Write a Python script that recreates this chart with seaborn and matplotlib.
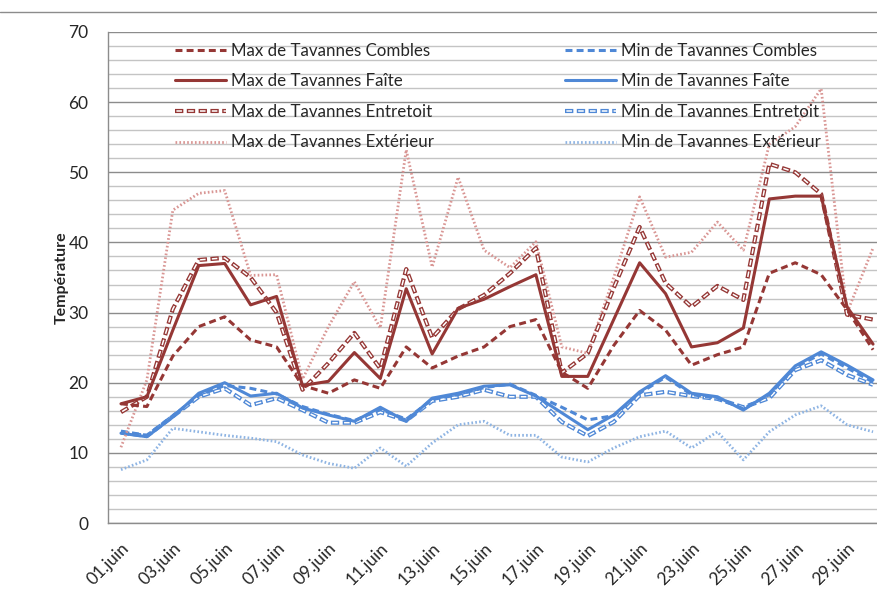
import matplotlib
matplotlib.use("Agg")
import matplotlib.pyplot as plt
import seaborn as sns
import pandas as pd
from matplotlib.lines import Line2D
from matplotlib.ticker import MultipleLocator

# Data (June daily temperatures)
days = [f"{d:02d}.juin" for d in range(1, 31)]

max_combles = [17.0, 16.6, 23.8, 28.0, 29.4, 26.1, 25.1, 19.6, 18.5, 20.4,
               19.2, 25.1, 22.1, 23.8, 25.1, 28.0, 29.0, 21.5, 19.2, 25.3,
               30.3, 27.5, 22.5, 24.0, 25.1, 35.6, 37.1, 35.4, 30.4, 24.7]
max_faite = [17.0, 18.0, 27.5, 36.7, 37.0, 31.1, 32.3, 19.6, 20.2, 24.3,
             20.6, 33.4, 24.1, 30.6, 31.9, 33.7, 35.4, 20.9, 20.9, 29.0,
             37.1, 32.7, 25.1, 25.7, 27.8, 46.2, 46.6, 46.6, 30.8, 25.5]
max_entretoit = [15.8, 18.0, 30.5, 37.5, 37.8, 35.0, 30.0, 19.0, 22.8, 27.1,
                 22.0, 36.2, 26.4, 30.5, 32.5, 35.6, 39.2, 21.4, 24.2, 33.5,
                 42.2, 34.2, 30.8, 33.8, 31.8, 51.2, 50.0, 46.9, 29.7, 29.0]
max_exterieur = [10.8, 20.4, 44.6, 47.0, 47.4, 35.3, 35.4, 20.5, 28.0, 34.4,
                 27.8, 53.2, 36.5, 49.3, 38.9, 36.4, 40.1, 25.1, 24.2, 35.0,
                 46.5, 37.9, 38.6, 42.9, 38.9, 54.0, 56.5, 61.9, 30.0, 39.2]

min_combles = [13.1, 12.5, 15.3, 18.2, 19.6, 19.2, 18.4, 16.6, 15.5, 14.6,
               16.2, 14.8, 17.6, 18.3, 19.3, 19.8, 18.2, 16.5, 14.7, 15.3,
               18.5, 20.8, 18.3, 17.8, 16.3, 18.3, 22.2, 24.1, 22.1, 20.1]
min_faite = [12.8, 12.3, 15.1, 18.5, 20.0, 18.1, 18.5, 16.4, 15.4, 14.5,
             16.5, 14.5, 17.8, 18.5, 19.5, 19.7, 18.1, 15.7, 13.3, 15.4,
             18.7, 21.0, 18.5, 18.0, 16.1, 18.5, 22.4, 24.4, 22.5, 20.4]
min_entretoit = [12.9, 12.4, 15.2, 18.0, 19.2, 16.8, 17.8, 16.1, 14.3, 14.3,
                 15.8, 14.6, 17.4, 18.0, 19.0, 18.0, 18.0, 14.4, 12.4, 14.4,
                 18.2, 18.7, 18.1, 17.7, 16.5, 17.8, 21.8, 23.2, 21.1, 19.7]
min_exterieur = [7.6, 9.0, 13.5, 13.0, 12.5, 12.1, 11.6, 9.7, 8.5, 7.8,
                 10.7, 8.1, 11.4, 14.0, 14.5, 12.5, 12.5, 9.4, 8.7, 10.7,
                 12.3, 13.1, 10.7, 13.0, 9.0, 13.0, 15.4, 16.7, 14.0, 13.0]

series = {
    "Max de Tavannes Combles": max_combles,
    "Max de Tavannes Faîte": max_faite,
    "Max de Tavannes Entretoit": max_entretoit,
    "Max de Tavannes Extérieur": max_exterieur,
    "Min de Tavannes Combles": min_combles,
    "Min de Tavannes Faîte": min_faite,
    "Min de Tavannes Entretoit": min_entretoit,
    "Min de Tavannes Extérieur": min_exterieur,
}

df = pd.DataFrame(series)
df["pos"] = range(len(days))

sns.set_theme(style="white")
plt.rcParams["font.family"] = ["Lato", "DejaVu Sans"]
plt.rcParams["lines.scale_dashes"] = False

DARK_RED = "#953735"
PINK = "#d99694"
BLUE = "#4f88d6"
LIGHT_BLUE = "#8eb4e3"

fig = plt.figure(figsize=(8.78, 5.94), dpi=100)
ax = fig.add_axes([108 / 878, 71 / 594, 778 / 878, 491 / 594])

# gridlines (minor every 2, major every 10)
ax.set_ylim(0, 70)
ax.set_xlim(-0.5, len(days) - 0.5)
ax.yaxis.set_major_locator(MultipleLocator(10))
ax.yaxis.set_minor_locator(MultipleLocator(2))
ax.grid(axis="y", which="minor", color="#c4c4c4", lw=1.0)
ax.grid(axis="y", which="major", color="#8c8c8c", lw=1.0)
ax.set_axisbelow(True)

handles = {}


def draw(name, color, kind):
    if kind == "solid":
        sns.lineplot(data=df, x="pos", y=name, ax=ax, color=color, lw=2.2)
        handles[name] = ax.get_lines()[-1]
    elif kind == "dash":
        sns.lineplot(data=df, x="pos", y=name, ax=ax, color=color, lw=2.2,
                     linestyle=(0, (5, 3)))
        handles[name] = ax.get_lines()[-1]
    elif kind == "dot":
        sns.lineplot(data=df, x="pos", y=name, ax=ax, color=color, lw=2.0,
                     linestyle=(0, (1.2, 1.6)))
        handles[name] = ax.get_lines()[-1]
    elif kind == "double":
        # outlined dashes: coloured dash with a thin white dash inside
        sns.lineplot(data=df, x="pos", y=name, ax=ax, color=color, lw=3.0,
                     linestyle=(0, (6, 2.5)))
        outer = ax.get_lines()[-1]
        sns.lineplot(data=df, x="pos", y=name, ax=ax, color="white", lw=1.1,
                     linestyle=(7.5, (4.0, 4.5)))
        inner = ax.get_lines()[-1]
        handles[name] = (outer, inner)


draw("Min de Tavannes Extérieur", LIGHT_BLUE, "dot")
draw("Min de Tavannes Entretoit", BLUE, "double")
draw("Min de Tavannes Combles", BLUE, "dash")
draw("Min de Tavannes Faîte", BLUE, "solid")
draw("Max de Tavannes Extérieur", PINK, "dot")
draw("Max de Tavannes Entretoit", DARK_RED, "double")
draw("Max de Tavannes Combles", DARK_RED, "dash")
draw("Max de Tavannes Faîte", DARK_RED, "solid")

# axes styling
for side in ["top", "right"]:
    ax.spines[side].set_visible(False)
for side in ["left", "bottom"]:
    ax.spines[side].set_color("#8c8c8c")
    ax.spines[side].set_linewidth(1.0)

ax.set_xticks(range(0, len(days), 2))
ax.set_xticklabels(days[::2], rotation=45, ha="right", rotation_mode="anchor",
                   fontsize=12.5)
ax.set_xticks([i - 0.5 for i in range(len(days) + 1)], minor=True)
ax.tick_params(axis="x", which="major", length=0, pad=12)
ax.tick_params(axis="x", which="minor", length=5, color="#8c8c8c", width=1)
ax.tick_params(axis="y", which="both", length=0, labelsize=12.5, pad=14)
ax.set_xlabel("")
ax.set_ylabel("Température", fontsize=11.5, fontweight="bold", labelpad=0)

# legends (two columns placed like the original)
max_names = list(series)[:4]
min_names = list(series)[4:]
leg_kw = dict(frameon=False, fontsize=12.2, handlelength=3.0, handletextpad=0.3,
              labelspacing=0.86, borderaxespad=0, loc="upper left")
leg1 = fig.legend([handles[n] for n in max_names], max_names,
                  bbox_to_anchor=(168 / 878, 1 - 36 / 594), **leg_kw)
leg2 = fig.legend([handles[n] for n in min_names], min_names,
                  bbox_to_anchor=(558 / 878, 1 - 36 / 594), **leg_kw)

# chart area border at top
fig.add_artist(Line2D([0, 1], [1 - 12 / 594, 1 - 12 / 594], color="#8c8c8c",
                      lw=1.0))

fig.savefig("out.png", dpi=100)
